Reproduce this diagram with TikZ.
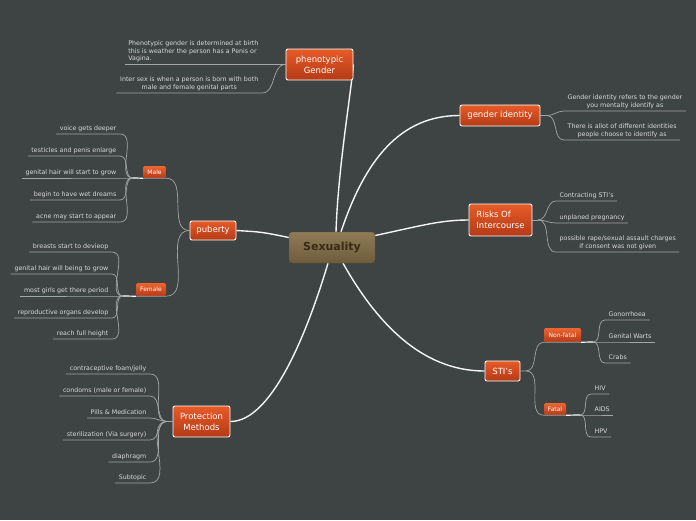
\documentclass[tikz,border=0pt]{standalone}
\usepackage{fontspec}
\setmainfont{DejaVu Sans}
\usetikzlibrary{positioning,backgrounds}

\definecolor{mapbg}{HTML}{3E4343}
\definecolor{topictop}{HTML}{E85B27}
\definecolor{topicbot}{HTML}{B33A17}
\definecolor{subtop}{HTML}{EE6530}
\definecolor{coretop}{HTML}{8F7B56}
\definecolor{corebot}{HTML}{6E5C3B}
\definecolor{coreedge}{HTML}{5E4E33}
\definecolor{coretext}{HTML}{3B2A14}
\definecolor{leaftext}{HTML}{DADADA}
\definecolor{twigline}{HTML}{A2A6A6}

\begin{document}
\begin{tikzpicture}[x=1pt, y=-1pt,
    core/.style={draw=coreedge, rounded corners=3pt, top color=coretop, bottom color=corebot, text=coretext, font=\bfseries\fontsize{11}{13}\selectfont, minimum width=86pt, minimum height=31pt, inner sep=0pt},
    topic/.style={draw=white, line width=0.9pt, rounded corners=2pt, top color=topictop, bottom color=topicbot, text=white, font=\fontsize{8.5}{11}\selectfont, align=center, inner sep=0pt},
    subtopic/.style={rounded corners=1.5pt, top color=subtop, bottom color=topicbot, text=white, font=\fontsize{6}{7}\selectfont, inner sep=0pt},
    leaf/.style={text=leaftext, font=\fontsize{6.3}{7.5}\selectfont, align=center, inner xsep=3.5pt, inner ysep=1.8pt, text depth=2pt},
    twig/.style={draw=twigline, line width=0.7pt},
    branch/.style={draw=white!92!gray, line width=1.4pt}]
    \useasboundingbox (0,0) rectangle (696,520);

    % main topics
    \node[core] (sex) at (332,247.5) {Sexuality};
    \node[topic, minimum width=67pt, minimum height=31pt] (phen) at (319.5,64.5) {phenotypic\\Gender};
    \node[topic, minimum width=80pt, minimum height=21pt] (ident) at (500,115.5) {gender identity};
    \node[topic, minimum width=63pt, minimum height=32pt, align=left] (risk) at (500.5,220) {Risks Of\\Intercourse};
    \node[topic, minimum width=35pt, minimum height=20pt] (sti) at (502.5,371) {STI's};
    \node[topic, minimum width=57pt, minimum height=31pt] (prot) at (201.5,421.5) {Protection\\Methods};
    \node[topic, minimum width=46pt, minimum height=19pt] (pub) at (213,230.5) {puberty};

    % subtopics
    \node[subtopic, minimum width=23pt, minimum height=12pt] (male) at (154.5,172) {Male};
    \node[subtopic, minimum width=30pt, minimum height=13pt] (female) at (151,289.5) {Female};
    \node[subtopic, minimum width=37pt, minimum height=14pt] (nonfatal) at (562.5,335) {Non-fatal};
    \node[subtopic, minimum width=22pt, minimum height=12pt] (fatal) at (555,409) {Fatal};

    \coordinate (malefork) at (133,178);
    \coordinate (femalefork) at (123,296);
    \coordinate (protfork) at (167,421.5);
    \coordinate (identfork) at (547,115.5);
    \coordinate (riskfork) at (538,220);
    \coordinate (stifork) at (526,371);
    \coordinate (nonfatalfork) at (593,342);
    \coordinate (fatalfork) at (580,415);

    % leaves
    \node[leaf, align=left, anchor=south east] (phen1) at (262,64.5) {Phenotypic gender is determined at birth\\this is weather the person has a Penis or\\Vagina.};
    \node[leaf, anchor=south east] (phen2) at (262,93) {Inter sex is when a person is born with both\\male and female genital parts};
    \node[leaf, anchor=south west] (ident1) at (564,111) {Gender identity refers to the gender\\you mentalty identify as};
    \node[leaf, anchor=south west] (ident2) at (564,140) {There is allot of different identities\\people choose to identify as};
    \foreach \n/\y/\t in {1/201/Contracting STI's, 2/223/unplaned pregnancy, 3/252/{possible rape/sexual assault charges\\if consent was not given}}
        \node[leaf, anchor=south west] (risk\n) at (556,\y) {\t};
    \foreach \n/\y/\t in {1/134/voice gets deeper, 2/156/testicles and penis enlarge, 3/178/genital hair will start to grow, 4/200/begin to have wet dreams, 5/222/acne may start to appear}
        \node[leaf, anchor=south east] (male\n) at (120,\y) {\t};
    \foreach \n/\y/\t in {1/252/breasts start to devieop, 2/274/genital hair will being to grow, 3/296/most girls get there period, 4/318/reproductive organs develop, 5/339/reach full height}
        \node[leaf, anchor=south east] (female\n) at (112,\y) {\t};
    \foreach \n/\y/\t in {1/374/{contraceptive foam/jelly}, 2/396/condoms (male or female), 3/418/Pills \& Medication, 4/440/sterilization (Via surgery), 5/462/diaphragm, 6/483/Subtopic}
        \node[leaf, anchor=south east] (prot\n) at (150,\y) {\t};
    \foreach \n/\y/\t in {1/320/Gonorrhoea, 2/342/Genital Warts, 3/363/Crabs}
        \node[leaf, anchor=south west] (nonfatal\n) at (605,\y) {\t};
    \foreach \n/\y/\t in {1/394/HIV, 2/415/AIDS, 3/437/HPV}
        \node[leaf, anchor=south west] (fatal\n) at (591,\y) {\t};

    % leaf connectors
    \draw[twig] (phen.west) -- (phen1.south east) -- (phen1.south west);
    \draw[twig] (phen.west) to[out=180,in=0] (phen2.south east) -- (phen2.south west);
    \draw[twig] (ident.east) -- (identfork);
    \foreach \n in {1,2} \draw[twig] (identfork) to[out=0,in=180] (ident\n.south west) -- (ident\n.south east);
    \foreach \n in {1,2,3} \draw[twig] (riskfork) to[out=0,in=180] (risk\n.south west) -- (risk\n.south east);
    \draw[twig] (risk.east) -- (riskfork);
    \foreach \n in {1,...,5} \draw[twig] (malefork) to[out=180,in=0] (male\n.south east) -- (male\n.south west);
    \foreach \n in {1,...,5} \draw[twig] (femalefork) to[out=180,in=0] (female\n.south east) -- (female\n.south west);
    \foreach \n in {1,...,6} \draw[twig] (protfork) to[out=180,in=0] (prot\n.south east) -- (prot\n.south west);
    \foreach \n in {1,2,3} \draw[twig] (nonfatalfork) to[out=0,in=180] (nonfatal\n.south west) -- (nonfatal\n.south east);
    \foreach \n in {1,2,3} \draw[twig] (fatalfork) to[out=0,in=180] (fatal\n.south west) -- (fatal\n.south east);
    \draw[twig] (prot.west) -- (protfork);

    % subtopic connectors
    \draw[twig] (pub.west) to[out=180,in=0] (male.south east) -- (male.south west);
    \draw[twig] (pub.west) to[out=180,in=0] (female.south east) -- (female.south west);
    \draw[twig] (sti.east) -- (stifork) to[out=0,in=180] (nonfatal.south west) -- (nonfatal.south east);
    \draw[twig] (stifork) to[out=0,in=180] (fatal.south west) -- (fatal.south east);
    \draw[white, line width=1.2pt] (male.south west) -- (malefork);
    \draw[white, line width=1.2pt] (female.south west) -- (femalefork);
    \draw[white, line width=1.2pt] (nonfatal.south east) -- (nonfatalfork);
    \draw[white, line width=1.2pt] (fatal.south east) -- (fatalfork);

    % main branches behind the topics
    \begin{scope}[on background layer]
        \fill[mapbg] (0,0) rectangle (696,520);
        \draw[branch] ([xshift=4pt]sex.north) .. controls (338,170) and (350,100) .. (phen.east);
        \draw[branch] ([xshift=9pt]sex.north) .. controls (365,160) and (400,115.5) .. (ident.west);
        \draw[branch] ([yshift=12pt]sex.east) .. controls (420,226) and (440,220) .. (risk.west);
        \draw[branch] ([xshift=11pt]sex.south) .. controls (375,320) and (420,371) .. (sti.west);
        \draw[branch] ([xshift=-4pt]sex.south) .. controls (305,340) and (270,421.5) .. (prot.east);
        \draw[branch] ([yshift=10pt]sex.west) .. controls (262,232) .. (pub.east);
    \end{scope}
\end{tikzpicture}
\end{document}
